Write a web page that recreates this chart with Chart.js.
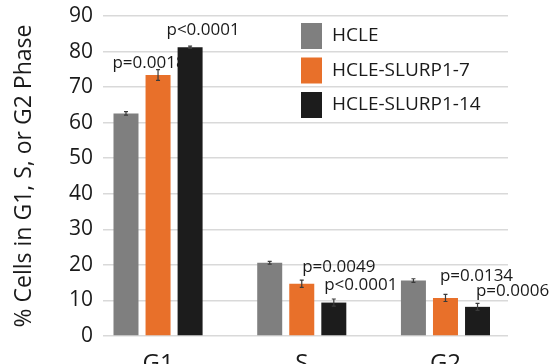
<!DOCTYPE html>
<html lang="en">
<head>
    <meta charset="UTF-8">
    <title>Cell cycle phases</title>
    <script src="https://cdn.jsdelivr.net/npm/chart.js@4.4.1/dist/chart.umd.min.js"></script>
    <style>
        body { margin: 0; background: #fff; }
        #wrap { width: 554px; height: 364px; }
    </style>
</head>
<body>
    <div id="wrap"><canvas id="chart" width="554" height="364"></canvas></div>

    <script>
        // data
        const phases = ['G1', 'S', 'G2'];
        const seriesNames = ['HCLE', 'HCLE-SLURP1-7', 'HCLE-SLURP1-14'];
        const hcle = [62.6, 20.6, 15.6];
        const slurp7 = [73.4, 14.7, 10.7];
        const slurp14 = [81.2, 9.4, 8.2];
        const hcleErr = [0.5, 0.4, 0.5];
        const slurp7Err = [1.5, 1.0, 1.0];
        const slurp14Err = [0.3, 1.0, 1.0];
        const yTicks = [0, 10, 20, 30, 40, 50, 60, 70, 80, 90];

        // p-values: [series, phase, text]
        const pValues = [
            [1, 0, 'p=0.0018'],
            [2, 0, 'p<0.0001'],
            [1, 1, 'p=0.0049'],
            [2, 1, 'p<0.0001'],
            [1, 2, 'p=0.0134'],
            [2, 2, 'p=0.0006']
        ];
        // label offsets from the top centre of the bar (px)
        const pOffsets = [[-9, -12], [13, -17], [37, -17], [27, -17], [31, -22], [35, -16]];

        const colors = ['#7f7f7f', '#e8702a', '#1c1c1c'];
        const font = '"Open Sans", "DejaVu Sans", sans-serif';

        const values = [hcle, slurp7, slurp14];
        const errors = [hcleErr, slurp7Err, slurp14Err];

        const errorBars = {
            id: 'errorBars',
            afterDatasetsDraw(chart) {
                const ctx = chart.ctx;
                const y = chart.scales.y;
                ctx.save();
                ctx.strokeStyle = '#3a3a3a';
                ctx.lineWidth = 1.2;
                values.forEach((vals, d) => {
                    const meta = chart.getDatasetMeta(d);
                    meta.data.forEach((bar, i) => {
                        const top = y.getPixelForValue(vals[i] + errors[d][i]);
                        const bot = y.getPixelForValue(vals[i] - errors[d][i]);
                        ctx.beginPath();
                        ctx.moveTo(bar.x, top);
                        ctx.lineTo(bar.x, bot);
                        ctx.moveTo(bar.x - 2, top);
                        ctx.lineTo(bar.x + 2, top);
                        ctx.moveTo(bar.x - 2, bot);
                        ctx.lineTo(bar.x + 2, bot);
                        ctx.stroke();
                    });
                });
                ctx.restore();
            }
        };

        // drawn under the bars, so the black G1 bar hides the last digit like in the figure
        const pLabels = {
            id: 'pLabels',
            beforeDatasetsDraw(chart) {
                const ctx = chart.ctx;
                ctx.save();
                ctx.font = '17px ' + font;
                ctx.fillStyle = '#1a1a1a';
                ctx.textAlign = 'center';
                ctx.textBaseline = 'middle';
                pValues.forEach((p, k) => {
                    const bar = chart.getDatasetMeta(p[0]).data[p[1]];
                    ctx.fillText(p[2], bar.x + pOffsets[k][0], bar.y + pOffsets[k][1]);
                });
                ctx.restore();
            }
        };

        const boxLegend = {
            id: 'boxLegend',
            afterDraw(chart) {
                const ctx = chart.ctx;
                ctx.save();
                ctx.font = '19px ' + font;
                ctx.textBaseline = 'middle';
                seriesNames.forEach((name, i) => {
                    const top = 23 + i * 34.5;
                    ctx.fillStyle = colors[i];
                    ctx.fillRect(301, top, 21, 26);
                    ctx.fillStyle = '#1a1a1a';
                    ctx.fillText(name, 332, top + 13);
                });
                ctx.restore();
            }
        };

        new Chart(document.getElementById('chart'), {
            type: 'bar',
            data: {
                datasets: seriesNames.map((name, d) => ({
                    label: name,
                    data: values[d].map((v, i) => ({ x: i, y: v })),
                    backgroundColor: colors[d],
                    categoryPercentage: 0.669,
                    barPercentage: 0.78
                }))
            },
            options: {
                responsive: false,
                animation: false,
                layout: { padding: { top: 16, right: 46, left: 0, bottom: 0 } },
                plugins: { legend: { display: false }, tooltip: { enabled: false } },
                scales: {
                    x: {
                        type: 'linear',
                        offset: false,
                        min: -0.383,
                        max: 2.435,
                        afterBuildTicks(scale) { scale.ticks = phases.map((p, i) => ({ value: i })); },
                        afterFit(scale) { scale.height = 28; scale.paddingLeft = 0; scale.paddingRight = 0; },
                        grid: { display: false },
                        border: { display: false },
                        ticks: {
                            padding: 6,
                            color: '#1a1a1a',
                            font: { family: font, size: 24 },
                            callback: (v) => phases[v]
                        }
                    },
                    y: {
                        min: 0,
                        max: 90,
                        afterBuildTicks(scale) { scale.ticks = yTicks.map(v => ({ value: v })); },
                        afterFit(scale) { scale.width = 103; scale.paddingTop = 0; scale.paddingBottom = 0; },
                        grid: { color: '#d9d9d9', lineWidth: 1.5, drawTicks: false },
                        border: { display: false },
                        ticks: {
                            padding: 10,
                            color: '#1a1a1a',
                            font: { family: font, size: 21 }
                        },
                        title: {
                            display: true,
                            text: '% Cells in G1, S, or G2 Phase',
                            color: '#1a1a1a',
                            font: { family: font, size: 23 },
                            padding: { top: 11, bottom: 0 }
                        }
                    }
                }
            },
            plugins: [pLabels, errorBars, boxLegend]
        });
    </script>
</body>
</html>
